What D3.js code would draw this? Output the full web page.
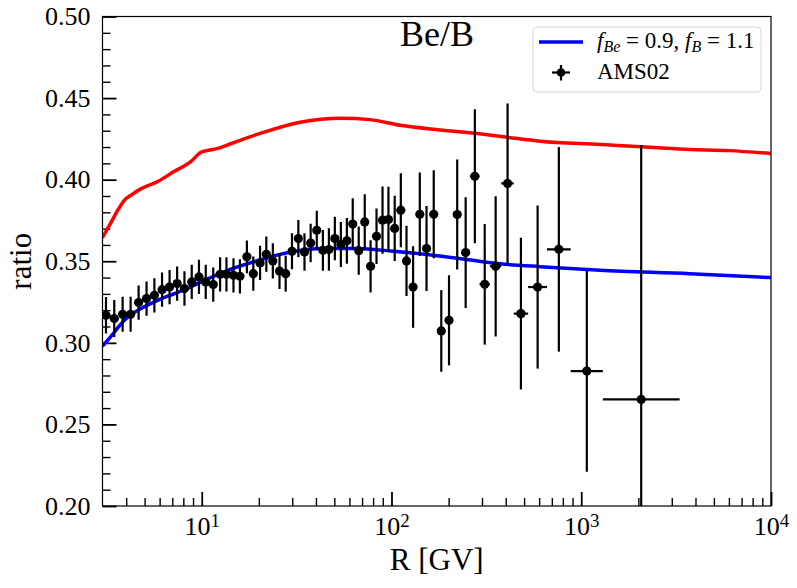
<!DOCTYPE html>
<html>
<head>
<meta charset="utf-8">
<script src="https://cdn.jsdelivr.net/npm/d3@7"></script>
<style>
  body { margin: 0; background: #fff; }
  text { font-family: "Liberation Serif", "DejaVu Serif", serif; fill: #000; }
</style>
</head>
<body>
<div id="main"></div>
<script>
// AMS02 Be/B, rigidity bin centers [GV], bin edges, ratio and error
var rig = [3.13, 3.46, 3.83, 4.22, 4.65, 5.12, 5.63, 6.18, 6.77, 7.42, 8.11, 8.86, 9.67, 10.5, 11.5,
  12.5, 13.5, 14.7, 15.9, 17.3, 18.7, 20.3, 21.9, 23.7, 25.7, 27.7, 29.9, 32.3, 34.8, 37.5, 40.4,
  43.5, 46.8, 50.3, 54.1, 58.2, 62.5, 67.2, 72.3, 77.6, 83.4, 89.7, 96.4, 104, 112, 120, 130, 141,
  153, 167, 183, 201, 222, 246, 275, 310, 354, 409, 481, 589, 762, 1070, 2070];
var edges = [2.97, 3.29, 3.64, 4.02, 4.43, 4.88, 5.37, 5.90, 6.47, 7.09, 7.76, 8.48, 9.26, 10.1, 11.0,
  12.0, 13.0, 14.1, 15.3, 16.6, 18.0, 19.5, 21.1, 22.8, 24.7, 26.7, 28.8, 31.1, 33.5, 36.1, 38.9,
  41.9, 45.1, 48.5, 52.2, 56.1, 60.3, 64.8, 69.7, 74.9, 80.5, 86.5, 93.0, 100, 108, 116, 125, 135,
  147, 160, 175, 192, 211, 233, 259, 291, 330, 379, 441, 525, 660, 880, 1300, 3300];
var ratio = [0.3169, 0.3149, 0.3175, 0.3175, 0.3247, 0.3271, 0.3291, 0.3326, 0.3342, 0.3363, 0.3333,
  0.3373, 0.3404, 0.3373, 0.3357, 0.3420, 0.3420, 0.3414, 0.3408, 0.3527, 0.3424, 0.3490, 0.3543,
  0.3502, 0.3440, 0.3424, 0.3561, 0.3639, 0.3557, 0.3612, 0.3690, 0.3567, 0.3572, 0.3639, 0.3603,
  0.3625, 0.3728, 0.3565, 0.3741, 0.3469, 0.3653, 0.3752, 0.3756, 0.3701, 0.3813, 0.3502, 0.3342,
  0.3788, 0.3578, 0.3788, 0.3073, 0.3138, 0.3786, 0.3553, 0.4021, 0.3359, 0.3469, 0.3977, 0.3179,
  0.3342, 0.3573, 0.2827, 0.2653];
var err = [0.0112, 0.0114, 0.0107, 0.0107, 0.0105, 0.0105, 0.0105, 0.0105, 0.0105, 0.0105, 0.0105,
  0.0105, 0.0105, 0.0105, 0.0105, 0.0105, 0.0105, 0.0105, 0.0105, 0.0100, 0.0105, 0.0105, 0.0108,
  0.0108, 0.0110, 0.0110, 0.0110, 0.0114, 0.0115, 0.0118, 0.0120, 0.0125, 0.0130, 0.0133, 0.0138,
  0.0140, 0.0158, 0.0148, 0.0170, 0.0160, 0.0170, 0.0206, 0.0200, 0.0200, 0.0227, 0.0215, 0.0250,
  0.0256, 0.0260, 0.0270, 0.0250, 0.0276, 0.0337, 0.0340, 0.0410, 0.0370, 0.0430, 0.0490, 0.0465,
  0.0500, 0.0627, 0.0617, 0.1560];

// model curves
var redR = [3.0, 3.3, 3.6, 3.9, 4.3, 4.8, 5.85, 7.15, 8.75, 9.9, 10.6, 12, 14.2, 20.5, 33, 54, 77,
  111, 180, 277, 413, 607, 1259, 3735, 6000, 10000];
var redVal = [0.3645, 0.3730, 0.3810, 0.3872, 0.3910, 0.3945, 0.3988, 0.4050, 0.4110, 0.4168, 0.4178,
  0.4190, 0.4220, 0.4285, 0.4352, 0.4377, 0.4368, 0.4333, 0.4305, 0.4284, 0.4259, 0.4236, 0.4216,
  0.4185, 0.4178, 0.4160];
var blueR = [3.0, 3.3, 3.6, 3.85, 4.4, 5.0, 5.9, 7.3, 8.75, 10, 13, 20, 29.4, 44, 66, 99, 166, 373,
  607, 1259, 3735, 10000];
var blueVal = [0.2980, 0.3035, 0.3090, 0.3130, 0.3185, 0.3222, 0.3262, 0.3305, 0.3343, 0.3375, 0.3434,
  0.3506, 0.3557, 0.3578, 0.3578, 0.3563, 0.3537, 0.3485, 0.3467, 0.3445, 0.3424, 0.3400];

var xMajor = [10, 100, 1000, 10000];
var xMinor = [4, 5, 6, 7, 8, 9, 20, 30, 40, 50, 60, 70, 80, 90, 200, 300, 400, 500, 600, 700, 800, 900,
  2000, 3000, 4000, 5000, 6000, 7000, 8000, 9000];
var yMajor = [0.20, 0.25, 0.30, 0.35, 0.40, 0.45, 0.50];
var yMinor = [0.21, 0.22, 0.23, 0.24, 0.26, 0.27, 0.28, 0.29, 0.31, 0.32, 0.33, 0.34, 0.36, 0.37, 0.38,
  0.39, 0.41, 0.42, 0.43, 0.44, 0.46, 0.47, 0.48, 0.49];

var width = 797, height = 588;
var margin = {top: 16.5, right: 26, bottom: 82, left: 102.5};
var w = width - margin.left - margin.right,
    h = height - margin.top - margin.bottom;

var svg = d3.select("#main").append("svg")
  .attr("width", width)
  .attr("height", height);

var g = svg.append("g")
  .attr("transform", "translate(" + margin.left + "," + margin.top + ")");

var x = d3.scaleLog().domain([3, 10000]).range([0, w]);
var y = d3.scaleLinear().domain([0.2, 0.5]).range([h, 0]);

g.append("clipPath").attr("id", "plotclip")
  .append("rect").attr("width", w).attr("height", h);

// axes, ticks pointing inwards
var gx = g.append("g").attr("transform", "translate(0," + h + ")")
  .call(d3.axisBottom(x).tickValues(xMajor).tickSize(-14).tickSizeOuter(0).tickPadding(11));
gx.selectAll(".tick text").text(null).style("font-size", "26px")
  .each(function (d) {
    var t = d3.select(this);
    t.append("tspan").text("10");
    t.append("tspan").attr("dy", "-8").style("font-size", "19px").text(Math.round(Math.log10(d)));
  });
g.append("g").attr("transform", "translate(0," + h + ")")
  .call(d3.axisBottom(x).tickValues(xMinor).tickSize(-8).tickSizeOuter(0).tickFormat(""))
  .attr("class", "minor");

var gy = g.append("g")
  .call(d3.axisLeft(y).tickValues(yMajor).tickSize(-14).tickSizeOuter(0).tickPadding(12)
    .tickFormat(d3.format(".2f")));
gy.selectAll(".tick text").style("font-size", "26px");
g.append("g")
  .call(d3.axisLeft(y).tickValues(yMinor).tickSize(-8).tickSizeOuter(0).tickFormat(""))
  .attr("class", "minor");

g.selectAll(".domain").remove();
g.selectAll(".tick line").attr("stroke", "#000").attr("stroke-width", 1.8);
g.selectAll(".minor .tick line").attr("stroke-width", 1.4);
g.selectAll(".tick text").attr("fill", "#000").style("font-family", "'Liberation Serif', serif");

// model lines
var line = d3.line()
  .x(function (d) { return x(d[0]); })
  .y(function (d) { return y(d[1]); })
  .curve(d3.curveMonotoneX);

var plot = g.append("g").attr("clip-path", "url(#plotclip)");

plot.append("path")
  .datum(redR.map(function (r, i) { return [r, redVal[i]]; }))
  .attr("d", line)
  .attr("fill", "none")
  .attr("stroke", "#ff0000")
  .attr("stroke-width", 3.5);

plot.append("path")
  .datum(blueR.map(function (r, i) { return [r, blueVal[i]]; }))
  .attr("d", line)
  .attr("fill", "none")
  .attr("stroke", "#0000ff")
  .attr("stroke-width", 3.5);

// AMS02 points with error bars
var pts = rig.map(function (r, i) {
  return {r: r, lo: edges[i], hi: edges[i + 1], v: ratio[i], e: err[i]};
});

var pt = plot.selectAll("g.pt")
  .data(pts)
  .enter().append("g")
  .attr("class", "pt");

pt.append("line")
  .attr("x1", function (d) { return x(d.r); })
  .attr("x2", function (d) { return x(d.r); })
  .attr("y1", function (d) { return y(d.v - d.e); })
  .attr("y2", function (d) { return y(d.v + d.e); })
  .attr("stroke", "#000").attr("stroke-width", 2.2);

pt.append("line")
  .attr("x1", function (d) { return x(d.lo); })
  .attr("x2", function (d) { return x(d.hi); })
  .attr("y1", function (d) { return y(d.v); })
  .attr("y2", function (d) { return y(d.v); })
  .attr("stroke", "#000").attr("stroke-width", 2.2);

pt.append("circle")
  .attr("cx", function (d) { return x(d.r); })
  .attr("cy", function (d) { return y(d.v); })
  .attr("r", 4.6)
  .attr("fill", "#000");

// frame
g.append("rect")
  .attr("width", w).attr("height", h)
  .attr("fill", "none")
  .attr("stroke", "#000")
  .attr("stroke-width", 1.2);

// title and axis labels
svg.append("text")
  .attr("x", 437).attr("y", 46)
  .attr("text-anchor", "middle")
  .style("font-size", "36px")
  .text("Be/B");

svg.append("text")
  .attr("x", margin.left + w / 2).attr("y", 570)
  .attr("text-anchor", "middle")
  .style("font-size", "31px")
  .text("R [GV]");

svg.append("text")
  .attr("transform", "translate(31," + (margin.top + h / 2) + ") rotate(-90)")
  .attr("text-anchor", "middle")
  .style("font-size", "31px")
  .text("ratio");

// legend
var lg = svg.append("g");
lg.append("rect")
  .attr("x", 533).attr("y", 27)
  .attr("width", 228).attr("height", 65)
  .attr("rx", 4)
  .attr("fill", "#fff").attr("fill-opacity", 0.8)
  .attr("stroke", "#d6d6d6").attr("stroke-width", 1);

lg.append("line")
  .attr("x1", 539).attr("x2", 583).attr("y1", 42).attr("y2", 42)
  .attr("stroke", "#0000ff").attr("stroke-width", 3.5);

var lt = lg.append("text").attr("x", 597).attr("y", 48).style("font-size", "23px");
lt.append("tspan").style("font-style", "italic").text("f");
lt.append("tspan").style("font-style", "italic").style("font-size", "16px").attr("dy", 4).text("Be");
lt.append("tspan").attr("dy", -4).text(" = 0.9, ");
lt.append("tspan").style("font-style", "italic").text("f");
lt.append("tspan").style("font-style", "italic").style("font-size", "16px").attr("dy", 4).text("B");
lt.append("tspan").attr("dy", -4).text(" = 1.1");

lg.append("line")
  .attr("x1", 561).attr("x2", 561).attr("y1", 65).attr("y2", 80.5)
  .attr("stroke", "#000").attr("stroke-width", 2.2);
lg.append("line")
  .attr("x1", 552).attr("x2", 570).attr("y1", 72.5).attr("y2", 72.5)
  .attr("stroke", "#000").attr("stroke-width", 2.2);
lg.append("circle")
  .attr("cx", 561).attr("cy", 72.5).attr("r", 4.3)
  .attr("fill", "#000");

lg.append("text").attr("x", 597).attr("y", 79).style("font-size", "23px").text("AMS02");
</script>
</body>
</html>
